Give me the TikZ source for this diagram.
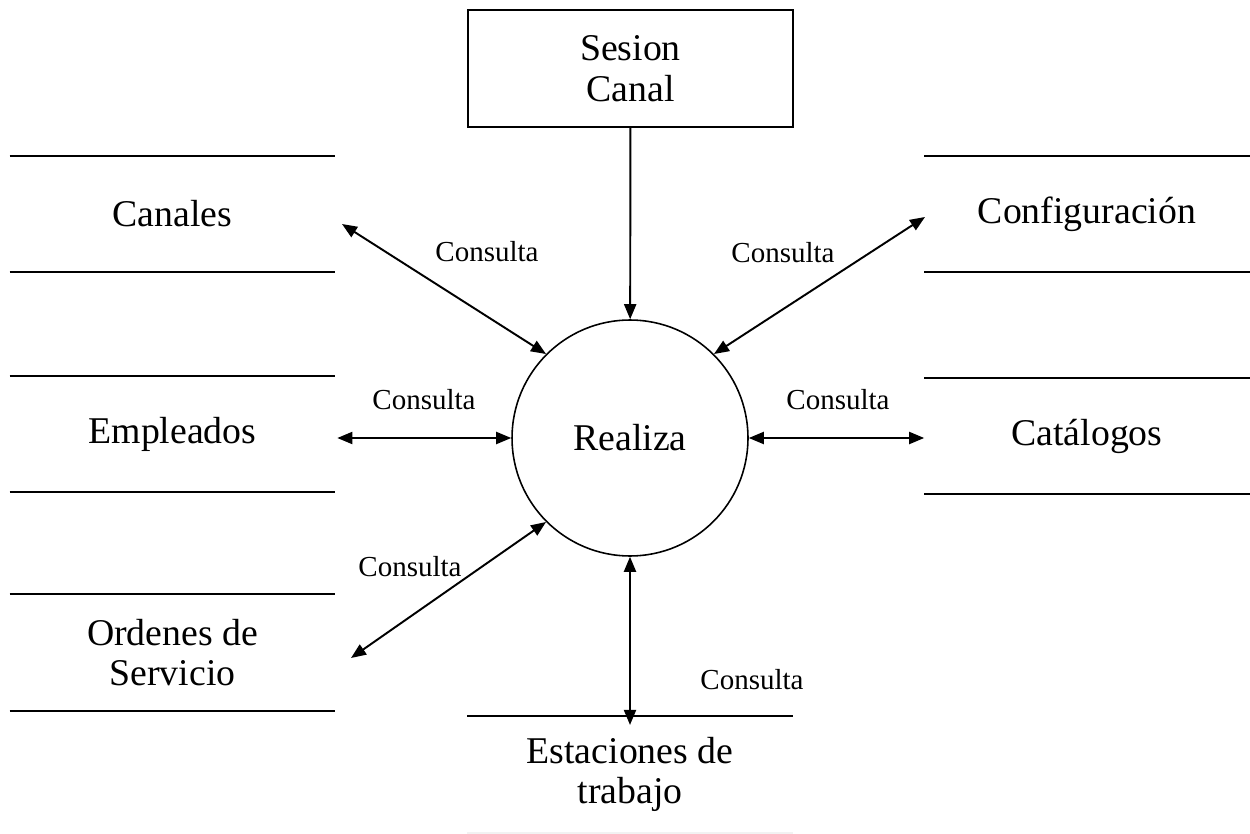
\documentclass[tikz,border=0pt]{standalone}
\usepackage{fontspec}
\setmainfont{Liberation Serif}
\usetikzlibrary{arrows.meta, positioning}

\tikzstyle{arrow}   = [line width=1.1pt, ->, >={Triangle[length=3mm,width=2.4mm]}]
\tikzstyle{darrow}  = [arrow, <->]
\tikzstyle{store}   = [minimum width=6.5cm, minimum height=2.32cm, inner sep=0pt, align=center, font=\fontsize{21.5}{23}\selectfont]
\tikzstyle{process} = [draw, line width=0.9pt, circle, minimum size=4.72cm, inner sep=0pt, font=\fontsize{21.5}{23}\selectfont]
\tikzstyle{entity}  = [draw, line width=1.1pt, minimum width=6.5cm, minimum height=2.34cm, align=center, font=\fontsize{21.5}{23}\selectfont]
\tikzstyle{line}    = [line width=1.2pt]
\tikzstyle{lbl}     = [font=\fontsize{16.5}{18}\selectfont, inner sep=0pt]

\begin{document}
\begin{tikzpicture}[x=0.02cm, y=-0.02cm]
\useasboundingbox (0,0) rectangle (1250,834);

% process and external entity
\node[process] (realiza) at (630,438) {Realiza};
\node[entity]  (sesion)  at (630.5,68.5) {Sesion\\Canal};

% data stores
\node[store] (canales)    at (172.5,214)  {Canales};
\node[store] (empleados)  at (172.5,434)  {Empleados};
\node[store] (ordenes)    at (172.5,652.5) {Ordenes de\\Servicio};
\node[store] (config)     at (1087,214)   {Configuración};
\node[store] (catalogos)  at (1087,436)   {Catálogos};
\node[store] (estaciones) at (630,774.5)  {Estaciones de\\trabajo};

\foreach \s in {canales, empleados, ordenes, config, catalogos} {
  \draw[line] (\s.north west) -- (\s.north east);
  \draw[line] (\s.south west) -- (\s.south east);
}
\draw[line] (estaciones.north west) -- (estaciones.north east);
\draw[line, black!5] (estaciones.south west) -- (estaciones.south east);

% free ends of the flows
\coordinate (c1) at (342,224);
\coordinate (c2) at (925,217);
\coordinate (c3) at (351,658);

% flows
\draw[arrow]  (sesion) -- (realiza);
\draw[darrow] (c1) -- (realiza.135);
\draw[darrow] (c2) -- (realiza.45);
\draw[darrow] (realiza.west -| empleados.east) ++(2,0) -- (realiza.west);
\draw[darrow] (realiza.east) -- (realiza.east -| catalogos.west);
\draw[darrow] (c3) -- (realiza.225);
\draw[darrow] (realiza.south) -- ([yshift=-5] estaciones.north);

% labels
\node[lbl] (l1) at (487,252) {Consulta};
\node[lbl] (l2) at (783,253) {Consulta};
\node[lbl] (l3) at (424,400) {Consulta};
\node[lbl] (l4) at (838,400) {Consulta};
\node[lbl] (l5) at (410,567) {Consulta};
\node[lbl] (l6) at (752,680) {Consulta};

\end{tikzpicture}
\end{document}
